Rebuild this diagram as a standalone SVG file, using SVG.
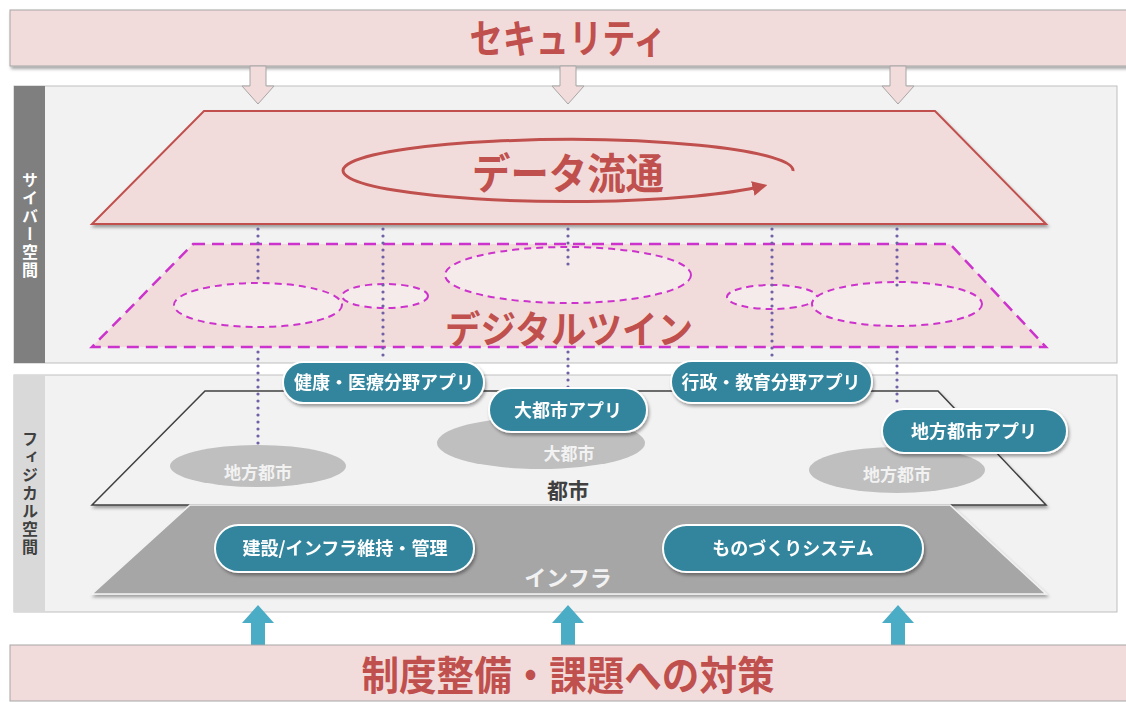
<svg xmlns="http://www.w3.org/2000/svg" width="1126" height="702" viewBox="0 0 1126 702">
<style>
.jp{font-family:"Noto Sans CJK JP","Noto Sans",sans-serif;font-weight:bold}
.red{fill:#c0504d}
.pill rect{fill:#31859c;stroke:#ffffff;stroke-width:2}
.pill text{fill:#ffffff;font-size:18px;text-anchor:middle}
.dots{stroke:#7060a6;stroke-width:3.2;stroke-linecap:round;stroke-dasharray:0 7;fill:none}
.dtw{fill:#f6ebeb;stroke:#cc33cc;stroke-width:2;stroke-dasharray:7 5}
.grayel{fill:#bfbfbf}
.glabel{fill:#f2f2f2;font-size:17px;text-anchor:middle}
.vlabel{font-size:16px;letter-spacing:2px;writing-mode:vertical-rl;text-orientation:mixed}
.darrow{fill:#f2dcdb;stroke:#a6a6a6;stroke-width:1}
.uarrow{fill:#4bacc6}
</style>
<defs>
<filter id="sh" x="-10%" y="-20%" width="120%" height="150%">
<feDropShadow dx="1.5" dy="2.5" stdDeviation="1.5" flood-color="#000" flood-opacity="0.35"/>
</filter>
<marker id="ah" viewBox="0 0 10 10" refX="7" refY="5" markerWidth="5" markerHeight="5" orient="auto" markerUnits="strokeWidth">
<path d="M0,0 L10,5 L0,10 z" fill="#c0504d"/>
</marker>
</defs>
<rect width="1126" height="702" fill="#ffffff"/>

<!-- Security banner -->
<g id="security">
<rect x="10" y="10" width="1130" height="56" fill="#f2dcdb" stroke="#a6a6a6" filter="url(#sh)"/>
<text class="jp red" x="568" y="53" font-size="40" text-anchor="middle" textLength="197" lengthAdjust="spacingAndGlyphs">セキュリティ</text>
</g>

<!-- Cyber panel -->
<g id="cyber-panel">
<rect x="14" y="86" width="1103" height="277" fill="#f2f2f2" stroke="#bfbfbf"/>
<rect x="14" y="86" width="31" height="277" fill="#7f7f7f"/>
<text class="jp vlabel" x="30" y="172" fill="#ffffff">サイバー空間</text>
</g>

<!-- Physical panel -->
<g id="physical-panel">
<rect x="14" y="375" width="1103" height="237" fill="#f2f2f2" stroke="#bfbfbf"/>
<rect x="14" y="375" width="31" height="237" fill="#d9d9d9"/>
<text class="jp vlabel" x="30" y="431" fill="#404040">フィジカル空間</text>
</g>

<!-- security down arrows -->
<g id="security-arrows">
<path class="darrow" d="M250,66 L266,66 L266,86 L274,86 L258,104 L242,86 L250,86 Z"/>
<path class="darrow" d="M560,66 L576,66 L576,86 L584,86 L568,104 L552,86 L560,86 Z"/>
<path class="darrow" d="M890,66 L906,66 L906,86 L914,86 L898,104 L882,86 L890,86 Z"/>
</g>

<!-- Data distribution plane -->
<g id="data-flow">
<polygon points="204,111 935,111 1046,224 92,224" fill="#f2dcdb" stroke="#c0504d" stroke-width="2" filter="url(#sh)"/>
<path d="M793,171 A225,31 0 1 0 763,186" fill="none" stroke="#c0504d" stroke-width="3" marker-end="url(#ah)"/>
<text class="jp red" x="568" y="189" font-size="42" text-anchor="middle" textLength="192" lengthAdjust="spacingAndGlyphs">データ流通</text>
</g>

<!-- Digital twin plane -->
<g id="digital-twin">
<polygon points="193,244 950,244 1046,347 92,347" fill="#f2dcdb" stroke="#cc33cc" stroke-width="2.5" stroke-dasharray="12 7"/>
<ellipse class="dtw" cx="258" cy="305" rx="84" ry="22"/>
<ellipse class="dtw" cx="385" cy="296" rx="43" ry="12"/>
<ellipse class="dtw" cx="568" cy="275" rx="123" ry="28"/>
<ellipse class="dtw" cx="772" cy="297" rx="45" ry="12"/>
<ellipse class="dtw" cx="897" cy="304" rx="85" ry="22"/>
<text class="jp red" x="569" y="343" font-size="38" text-anchor="middle" textLength="248" lengthAdjust="spacingAndGlyphs">デジタルツイン</text>
</g>

<!-- City plane -->
<g id="city">
<polygon points="205,391 938,391 1046,505 92,505" fill="#f2f2f2" stroke="#404040" stroke-width="1.5" filter="url(#sh)"/>
<ellipse class="grayel" cx="258" cy="466" rx="88" ry="21"/>
<ellipse class="grayel" cx="541" cy="443" rx="104" ry="26"/>
<ellipse class="grayel" cx="897" cy="470" rx="88" ry="23"/>
<text class="jp glabel" x="258" y="479">地方都市</text>
<text class="jp glabel" x="569" y="460">大都市</text>
<text class="jp glabel" x="897" y="481">地方都市</text>
<text class="jp" x="568" y="498" font-size="21" fill="#404040" text-anchor="middle">都市</text>
</g>

<!-- Infra plane -->
<g id="infra">
<polygon points="190,505 950,505 1046,594 92,594" fill="#a6a6a6" stroke="#f2f2f2" stroke-width="1.5" filter="url(#sh)"/>
<text class="jp" x="568" y="586" font-size="22" fill="#f2f2f2" text-anchor="middle">インフラ</text>
</g>

<!-- dotted connectors -->
<g id="connectors">
<line class="dots" x1="258" y1="229" x2="258" y2="283"/>
<line class="dots" x1="258" y1="352" x2="258" y2="446"/>
<line class="dots" x1="383" y1="229" x2="383" y2="362"/>
<line class="dots" x1="568" y1="229" x2="568" y2="268"/>
<line class="dots" x1="568" y1="352" x2="568" y2="388"/>
<line class="dots" x1="772" y1="229" x2="772" y2="360"/>
<line class="dots" x1="897" y1="229" x2="897" y2="292"/>
<line class="dots" x1="897" y1="352" x2="897" y2="408"/>
</g>

<!-- pills -->
<g id="app-health" class="pill jp" filter="url(#sh)">
<rect x="283" y="362" width="201" height="41" rx="20.5"/>
<text x="384" y="389" textLength="180" lengthAdjust="spacingAndGlyphs">健康・医療分野アプリ</text>
</g>
<g id="app-bigcity" class="pill jp" filter="url(#sh)">
<rect x="489" y="388" width="158" height="44" rx="22"/>
<text x="568" y="417">大都市アプリ</text>
</g>
<g id="app-gov" class="pill jp" filter="url(#sh)">
<rect x="671" y="361" width="201" height="42" rx="21"/>
<text x="771" y="389" textLength="179" lengthAdjust="spacingAndGlyphs">行政・教育分野アプリ</text>
</g>
<g id="app-local" class="pill jp" filter="url(#sh)">
<rect x="882" y="409" width="185" height="44" rx="22"/>
<text x="974" y="438">地方都市アプリ</text>
</g>
<g id="app-construction" class="pill jp" filter="url(#sh)">
<rect x="215" y="525" width="259" height="47" rx="23.5"/>
<text x="345" y="555" textLength="205" lengthAdjust="spacingAndGlyphs">建設/インフラ維持・管理</text>
</g>
<g id="app-mfg" class="pill jp" filter="url(#sh)">
<rect x="663" y="525" width="260" height="47" rx="23.5"/>
<text x="793" y="555" font-size="17">ものづくりシステム</text>
</g>

<!-- up arrows -->
<g id="policy-arrows">
<path class="uarrow" d="M251,646 L251,623 L242,623 L258,605 L274,623 L265,623 L265,646 Z"/>
<path class="uarrow" d="M561,646 L561,623 L552,623 L568,605 L584,623 L575,623 L575,646 Z"/>
<path class="uarrow" d="M891,646 L891,623 L882,623 L898,605 L914,623 L905,623 L905,646 Z"/>
</g>

<!-- Policy banner -->
<g id="policy">
<rect x="10" y="645" width="1130" height="56" fill="#f2dcdb" stroke="#a6a6a6"/>
<text class="jp red" x="568" y="690" font-size="40" text-anchor="middle" textLength="413" lengthAdjust="spacingAndGlyphs">制度整備・課題への対策</text>
</g>
</svg>
